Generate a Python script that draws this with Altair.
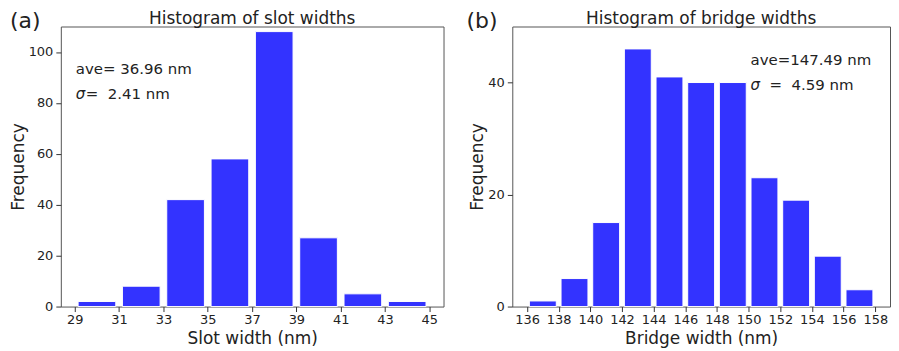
import altair as alt
import pandas as pd

# ---- data ----
slot_edges = [29, 31, 33, 35, 37, 39, 41, 43, 45]
slot_counts = [2, 8, 42, 58, 108, 27, 5, 2]
slot_xticks = [29, 31, 33, 35, 37, 39, 41, 43, 45]
slot_yticks = [0, 20, 40, 60, 80, 100]

bridge_edges = [136, 138, 140, 142, 144, 146, 148, 150, 152, 154, 156, 158]
bridge_counts = [1, 5, 15, 46, 41, 40, 40, 23, 19, 9, 3]
bridge_xticks = [136, 138, 140, 142, 144, 146, 148, 150, 152, 154, 156, 158]
bridge_yticks = [0, 20, 40]

RWIDTH = 0.85
BLUE = "#3333ff"
FONT = "DejaVu Sans"
TXT = "#222222"


def bars_df(edges, counts):
    rows = []
    for lo, hi, c in zip(edges[:-1], edges[1:], counts):
        pad = (hi - lo) * (1 - RWIDTH) / 2
        rows.append({"x0": lo + pad, "x1": hi - pad, "count": c})
    return pd.DataFrame(rows)


def txt(label, x, y, size=15, align="left", style="normal", baseline="alphabetic"):
    return alt.Chart(pd.DataFrame({"label": [label]})).mark_text(
        align=align, baseline=baseline, fontSize=size, font=FONT,
        fontStyle=style, color=TXT
    ).encode(text="label:N", x=alt.value(x), y=alt.value(y))


def panel(edges, counts, xdom, xticks, ydom, yticks, xtitle, title, tag,
          ave, sig, W, H, sx, sy, sig_gap, tag_x):
    df = bars_df(edges, counts)
    bars = alt.Chart(df).mark_bar(color=BLUE, stroke="white", strokeWidth=1).encode(
        x=alt.X("x0:Q", scale=alt.Scale(domain=xdom, nice=False, zero=False),
                axis=alt.Axis(values=xticks, title=xtitle, labelPadding=2,
                              titlePadding=4, format="d")),
        x2="x1:Q",
        y=alt.Y("count:Q", scale=alt.Scale(domain=ydom, nice=False),
                axis=alt.Axis(values=yticks, title="Frequency", labelPadding=3,
                              titlePadding=1, format="d")),
        y2=alt.datum(0),
    )
    layers = [
        bars,
        txt(title, W / 2, -16, size=17, align="center", baseline="top"),
        txt(tag, tag_x, -16, size=22, baseline="top"),
        txt(ave, sx, sy),
        txt("σ", sx, sy + 25, style="italic"),
        txt(sig, sx + sig_gap, sy + 25),
    ]
    return alt.layer(*layers).properties(width=W, height=H)


a = panel(slot_edges, slot_counts, [28.37, 45.64], slot_xticks, [0, 110], slot_yticks,
          "Slot width (nm)", "Histogram of slot widths", "(a)",
          "ave= 36.96 nm", "=\u00a0\u00a02.41 nm", 384, 281, 15, 48, 10, -51)

b = panel(bridge_edges, bridge_counts, [135.07, 158.93], bridge_xticks, [0, 50], bridge_yticks,
          "Bridge width (nm)", "Histogram of bridge widths", "(b)",
          "ave=147.49 nm", "=\u00a0\u00a04.59 nm", 379, 281, 239, 39, 19, -46)

chart = alt.hconcat(a, b, spacing=21).properties(padding=0).configure(
    font=FONT
).configure_view(
    stroke="#555555", strokeWidth=1
).configure_axis(
    grid=False, domain=False, tickSize=5, tickColor="#333333", tickWidth=1,
    labelFont=FONT, labelFontSize=13, labelColor=TXT, labelOverlap=False,
    labelFlush=False,
    titleFont=FONT, titleFontSize=17, titleFontWeight="normal", titleColor=TXT,
)

chart.save("out.html", embed_options={"renderer": "svg", "actions": False})
